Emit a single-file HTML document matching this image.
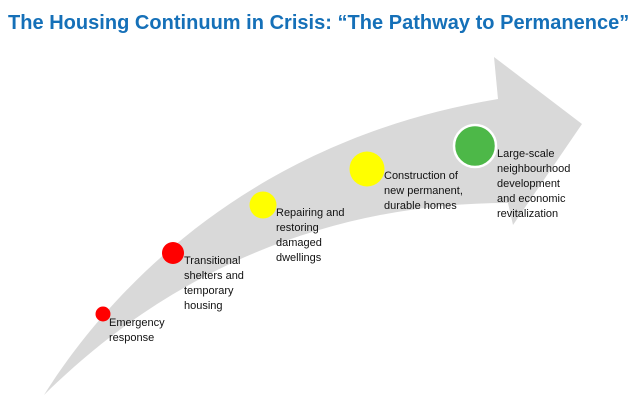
<!DOCTYPE html>
<html><head><meta charset="utf-8"><style>
body{margin:0;width:640px;height:407px;background:#fff;position:relative;overflow:hidden;font-family:"Liberation Sans",sans-serif}
.t{position:absolute;left:8px;top:12px;font-size:20px;font-weight:bold;color:#1570b8;white-space:nowrap;letter-spacing:0.02px}
.l{position:absolute;font-size:11px;line-height:15px;color:#111}
</style></head><body>
<div class="t">The Housing Continuum in Crisis: “The Pathway to Permanence”</div>
<svg width="640" height="407" style="position:absolute;left:0;top:0">
<path d="M44,395 C110,290 250,140 498,99 L494,57 L582,124 L513,225 L508,203 C330,203 170,270 44,395 Z" fill="#d9d9d9"/>
<circle cx="103" cy="314" r="7.5" fill="#ff0000"/>
<circle cx="173" cy="253" r="11" fill="#ff0000"/>
<circle cx="263" cy="205" r="13.5" fill="#ffff00"/>
<circle cx="367" cy="169" r="17.5" fill="#ffff00"/>
<circle cx="475" cy="146" r="21" fill="#4db848" stroke="#fff" stroke-width="2.5"/>
</svg>
<div class="l" style="left:109px;top:316px">Emergency<br>response</div>
<div class="l" style="left:184px;top:254px">Transitional<br>shelters and<br>temporary<br>housing</div>
<div class="l" style="left:276px;top:206px">Repairing and<br>restoring<br>damaged<br>dwellings</div>
<div class="l" style="left:384px;top:169px">Construction of<br>new permanent,<br>durable homes</div>
<div class="l" style="left:497px;top:147px">Large-scale<br>neighbourhood<br>development<br>and economic<br>revitalization</div>
</body></html>
